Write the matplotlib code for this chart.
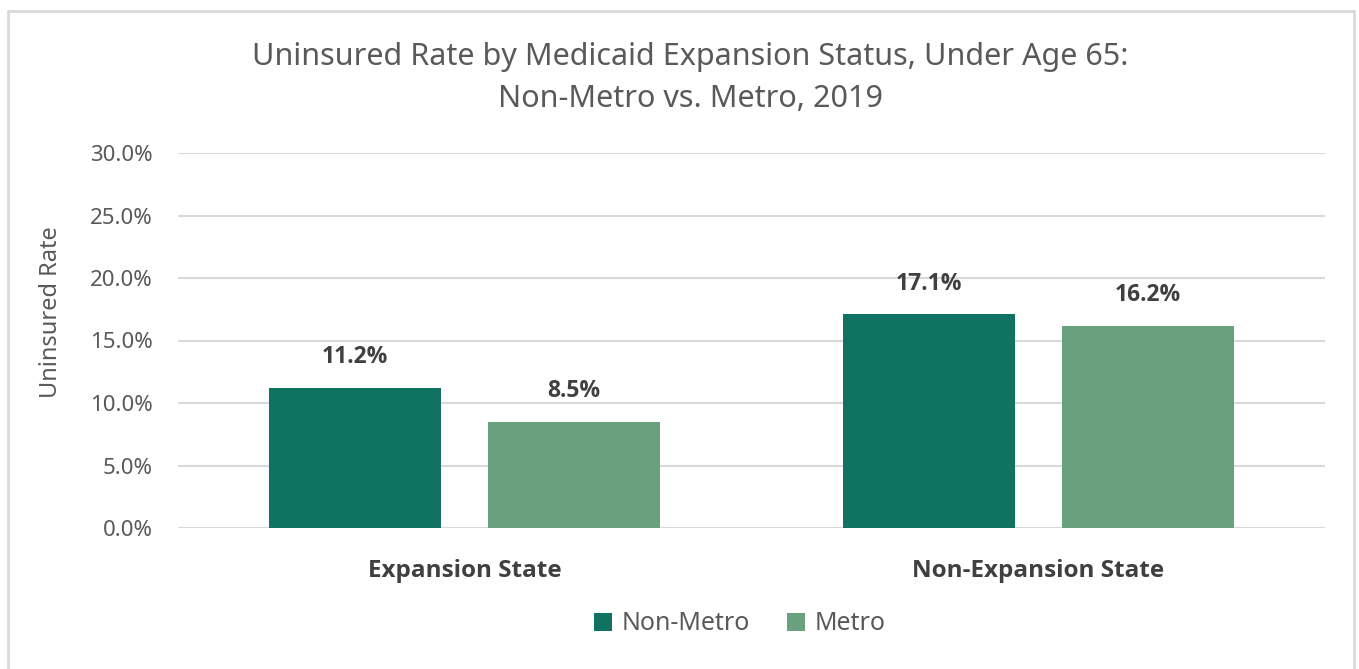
import matplotlib.pyplot as plt
from matplotlib.patches import Rectangle
import numpy as np

# Data
categories = ["Expansion State", "Non-Expansion State"]
series_names = ["Non-Metro", "Metro"]
non_metro = [11.2, 17.1]
metro = [8.5, 16.2]
yticks = [0, 5, 10, 15, 20, 25, 30]

DARK = "#107361"
LIGHT = "#69A07E"
GREY = "#595959"
BOLD_FONT = ['Open Sans', 'Lato', 'DejaVu Sans']

plt.rcParams['font.family'] = ['Noto Sans', 'DejaVu Sans']

fig = plt.figure(figsize=(13.59, 6.69), dpi=100)
ax = fig.add_axes([178 / 1359, 1 - 528 / 669, (1325 - 178) / 1359, (528 - 153) / 669])

x = np.arange(len(categories))
w = 0.30
off = 0.191
b1 = ax.bar(x - off, non_metro, w, color=DARK, label=series_names[0], zorder=3)
b2 = ax.bar(x + off, metro, w, color=LIGHT, label=series_names[1], zorder=3)

for bars, vals in ((b1, non_metro), (b2, metro)):
    for r, v in zip(bars, vals):
        ax.annotate(f"{v:.1f}%", (r.get_x() + r.get_width() / 2, v),
                    xytext=(0, 22), textcoords="offset points",
                    ha="center", va="center", fontsize=16.5, fontweight="bold",
                    family=BOLD_FONT, color="#404040")

ax.set_xlim(-0.5, 1.5)
ax.set_ylim(0, 30)
ax.set_yticks(yticks)
ax.set_yticklabels([f"{t:.1f}%" for t in yticks], fontsize=16, color=GREY)
ax.set_xticks(x)
ax.set_xticklabels(categories, fontsize=17.5, fontweight="bold", color="#404040",
                   family=BOLD_FONT)
ax.tick_params(axis="both", length=0)
ax.tick_params(axis="y", pad=18)
ax.tick_params(axis="x", pad=22)
ax.grid(axis="y", color="#d9d9d9", linewidth=1.5, zorder=0)
for s in ax.spines.values():
    s.set_visible(False)
ax.set_ylabel("Uninsured Rate", fontsize=17, color=GREY)
ax.yaxis.set_label_coords(-0.100, 0.576)

fig.text(690 / 1359, 1 - 78 / 669,
         "Uninsured Rate by Medicaid Expansion Status, Under Age 65:\nNon-Metro vs. Metro, 2019",
         ha="center", va="center", fontsize=22, color=GREY, linespacing=1.5)

fig.legend(loc="center", bbox_to_anchor=(740 / 1359, 1 - 624 / 669), ncol=2,
           frameon=False, fontsize=18, handlelength=0.7, handleheight=0.7,
           handletextpad=0.4, columnspacing=1.5, labelcolor=GREY)

fig.patches.append(Rectangle((8 / 1359, -0.01), (1354 - 8) / 1359, 1 - 11 / 669 + 0.01,
                             transform=fig.transFigure, fill=False,
                             edgecolor="#d9d9d9", linewidth=2))

fig.savefig("out.png", dpi=100)
